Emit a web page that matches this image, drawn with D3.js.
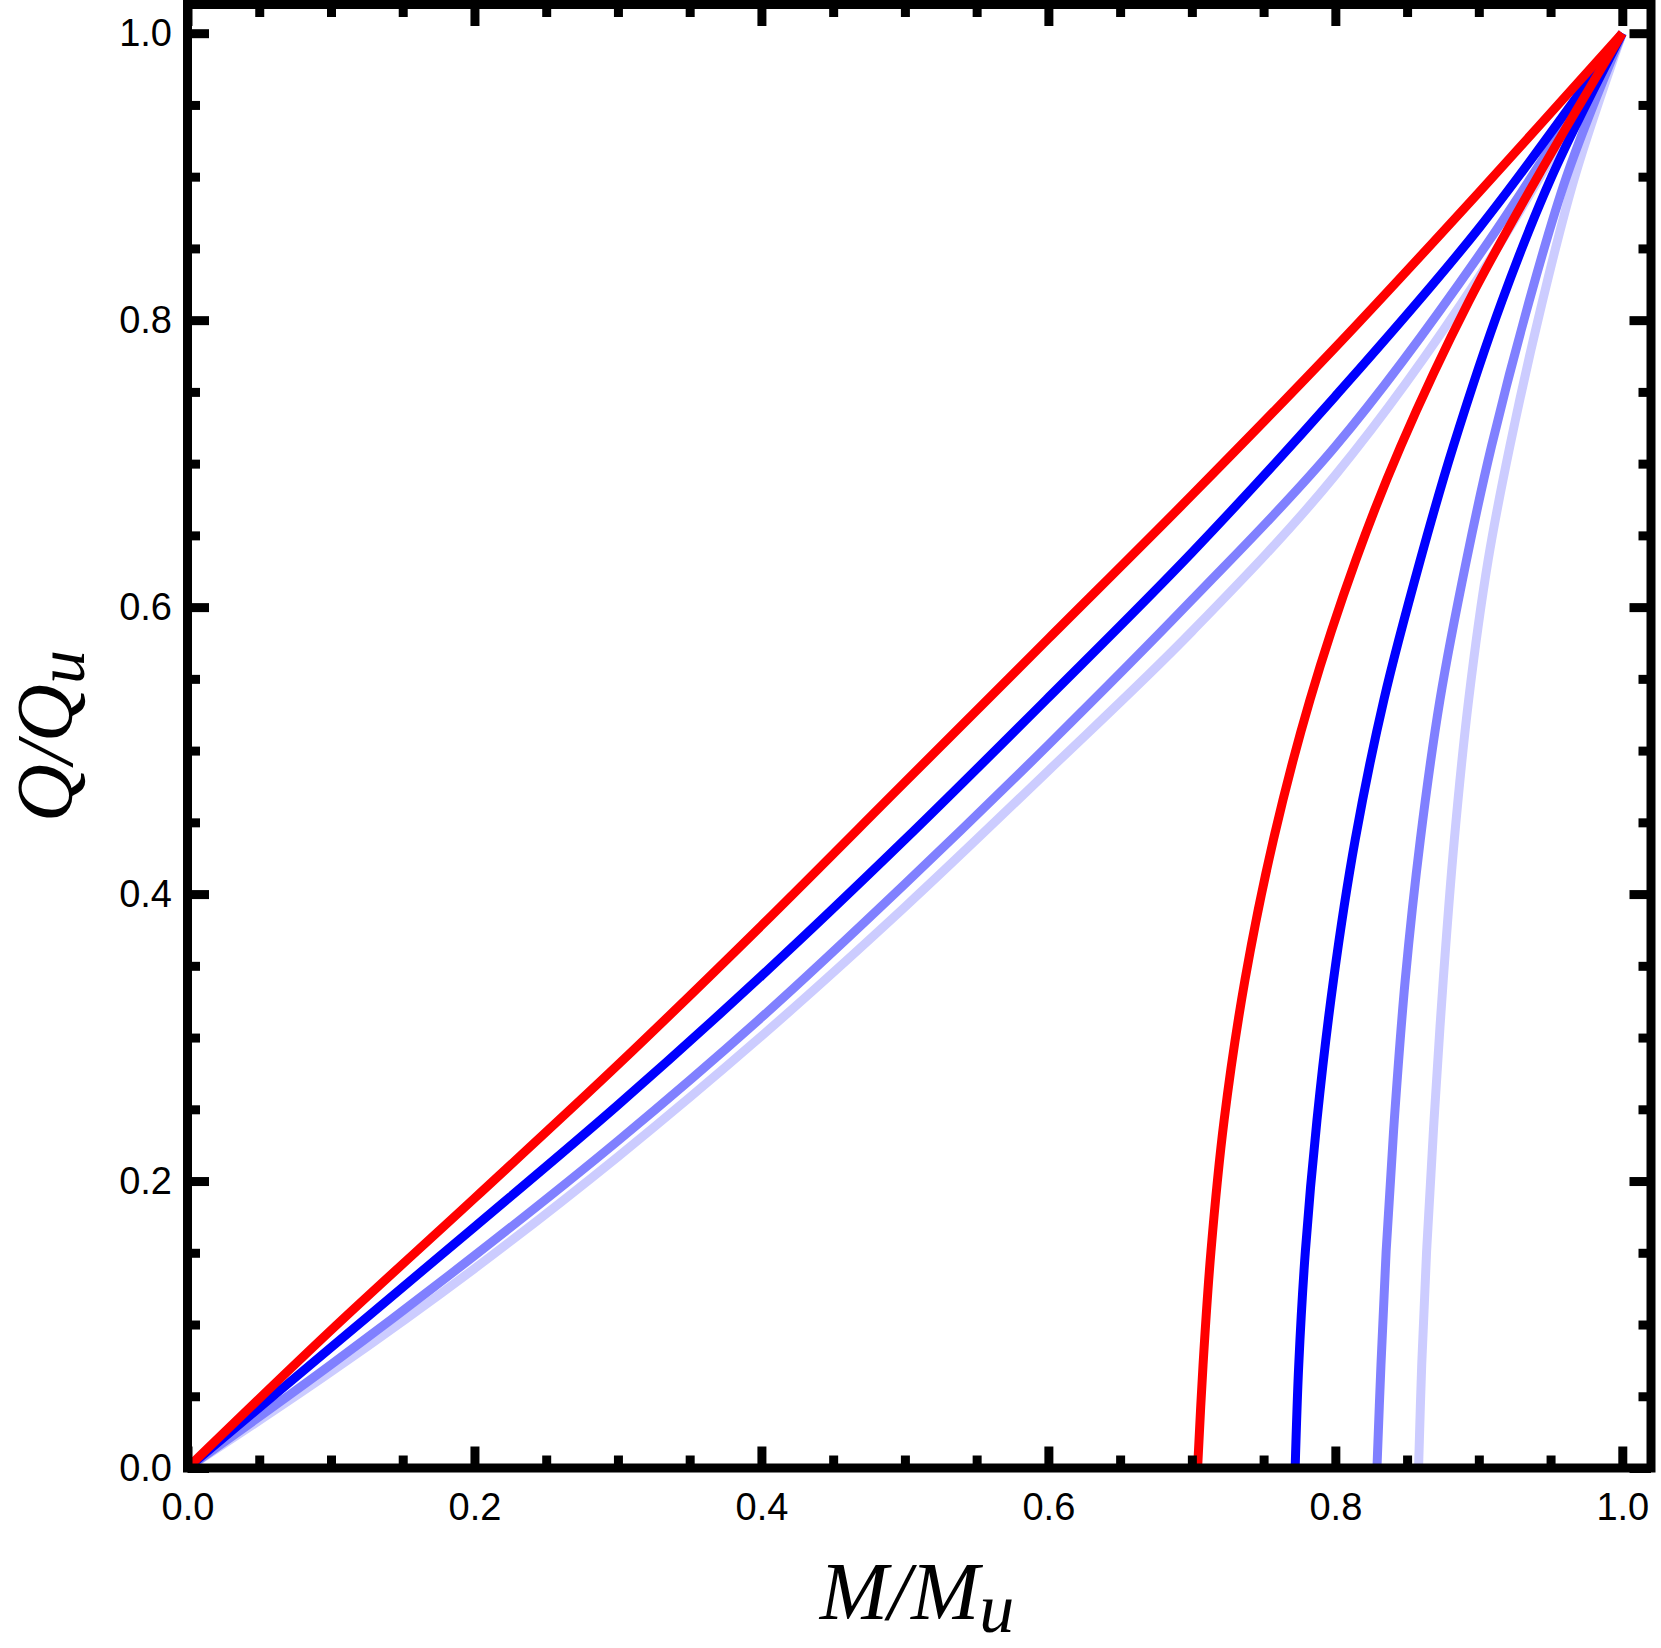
<!DOCTYPE html>
<html><head><meta charset="utf-8">
<script src="https://cdn.jsdelivr.net/npm/d3@7"></script>
<style>body{margin:0;background:#fff} svg{display:block}</style>
</head><body>
<svg id="c" width="1661" height="1648"></svg>
<script>
// ---- data ----
// upper branches: Q/Qu at given M/Mu
const upperM     = [0, 0.1, 0.2, 0.3, 0.4, 0.5, 0.6, 0.7, 0.8, 0.9, 1.0];
const upperRed   = [0, 0.096, 0.188, 0.281, 0.378, 0.478, 0.578, 0.678, 0.781, 0.889, 1.0];
const upperBlue  = [0, 0.084, 0.168, 0.253, 0.343, 0.438, 0.537, 0.638, 0.747, 0.864, 1.0];
const upperMid   = [0, 0.072, 0.148, 0.228, 0.314, 0.407, 0.504, 0.605, 0.712, 0.845, 1.0];
const upperLight = [0, 0.067, 0.139, 0.217, 0.301, 0.391, 0.486, 0.583, 0.692, 0.830, 1.0];
// lower branches: M/Mu at given Q/Qu
const lowerQ     = [0, 0.072, 0.151, 0.2425, 0.3401, 0.4377, 0.5353, 0.6328, 0.712, 0.813, 0.9, 1.0];
const lowerRed   = [0.704, 0.7078, 0.7133, 0.7225, 0.737, 0.7568, 0.7823, 0.8143, 0.8455, 0.893, 0.941, 1.0];
const lowerBlue  = [0.772, 0.7745, 0.7791, 0.7872, 0.7987, 0.8138, 0.8338, 0.8592, 0.8822, 0.916, 0.9508, 1.0];
const lowerMid   = [0.829, 0.8318, 0.8354, 0.8411, 0.8487, 0.8592, 0.8729, 0.8914, 0.9088, 0.935, 0.9611, 1.0];
const lowerLight = [0.858, 0.8602, 0.8636, 0.8688, 0.8752, 0.8829, 0.8929, 0.9065, 0.9216, 0.9443, 0.9669, 1.0];

const seriesNames  = ["light", "mid", "blue", "red"];
const seriesColors = ["#ccccff", "#8080ff", "#0000ff", "#ff0000"];
const majorTicks = [0, 0.2, 0.4, 0.6, 0.8, 1.0];
const minorTicks = [0.05,0.1,0.15,0.25,0.3,0.35,0.45,0.5,0.55,0.65,0.7,0.75,0.85,0.9,0.95];

// ---- drawing ----
const svg = d3.select('#c');
const x = d3.scaleLinear().domain([0, 1.02]).range([187.5, 1651]);
const y = d3.scaleLinear().domain([0, 1.02]).range([1468, 4.5]);

const uppers = [upperLight, upperMid, upperBlue, upperRed];
const lowers = [lowerLight, lowerMid, lowerBlue, lowerRed];

const line = d3.line().x(d => x(d[0])).y(d => y(d[1])).curve(d3.curveCatmullRom.alpha(0.5));

const g = svg.append('g');
seriesNames.forEach((n, i) => {
  g.append('path')
    .attr('d', line(upperM.map((m, k) => [m, uppers[i][k]])))
    .attr('fill', 'none').attr('stroke', seriesColors[i]).attr('stroke-width', 9);
  g.append('path')
    .attr('d', line(lowerQ.map((q, k) => [lowers[i][k], q])))
    .attr('fill', 'none').attr('stroke', seriesColors[i]).attr('stroke-width', 9);
});

const fmt = d3.format('.1f');
const font = '"Liberation Sans", Arial, sans-serif';

function styleAxis(sel) {
  sel.select('.domain').remove();
  sel.selectAll('.tick line').attr('stroke', '#000').attr('stroke-width', 9);
  sel.selectAll('.tick text').attr('font-family', font).attr('font-size', 38).attr('fill', '#000');
}

// bottom
svg.append('g').attr('transform', `translate(0,${y(0)})`)
  .call(d3.axisBottom(x).tickValues(majorTicks).tickSize(-21.5).tickPadding(25).tickFormat(fmt)).call(styleAxis);
svg.append('g').attr('transform', `translate(0,${y(0)})`)
  .call(d3.axisBottom(x).tickValues(minorTicks).tickSize(-12.5).tickFormat('')).call(styleAxis);
// top
svg.append('g').attr('transform', `translate(0,${y(1.02)})`)
  .call(d3.axisTop(x).tickValues(majorTicks).tickSize(-21.5).tickFormat('')).call(styleAxis);
svg.append('g').attr('transform', `translate(0,${y(1.02)})`)
  .call(d3.axisTop(x).tickValues(minorTicks).tickSize(-12.5).tickFormat('')).call(styleAxis);
// left
svg.append('g').attr('transform', `translate(${x(0)},0)`)
  .call(d3.axisLeft(y).tickValues(majorTicks).tickSize(-21.5).tickPadding(15.5).tickFormat(fmt)).call(styleAxis);
svg.append('g').attr('transform', `translate(${x(0)},0)`)
  .call(d3.axisLeft(y).tickValues(minorTicks).tickSize(-12.5).tickFormat('')).call(styleAxis);
// right
svg.append('g').attr('transform', `translate(${x(1.02)},0)`)
  .call(d3.axisRight(y).tickValues(majorTicks).tickSize(-21.5).tickFormat('')).call(styleAxis);
svg.append('g').attr('transform', `translate(${x(1.02)},0)`)
  .call(d3.axisRight(y).tickValues(minorTicks).tickSize(-12.5).tickFormat('')).call(styleAxis);

// frame
svg.append('rect')
  .attr('x', x(0)).attr('y', y(1.02))
  .attr('width', x(1.02) - x(0)).attr('height', y(0) - y(1.02))
  .attr('fill', 'none').attr('stroke', '#000').attr('stroke-width', 9);

// axis titles
const serif = '"Liberation Serif", "Times New Roman", serif';
const xt = svg.append('text')
  .attr('x', 917).attr('y', 1619).attr('text-anchor', 'middle')
  .attr('font-family', serif).attr('font-style', 'italic').attr('font-size', 82);
xt.append('tspan').text('M/M');
xt.append('tspan').attr('dy', 13).attr('font-size', 70).text('u');

const yt = svg.append('text')
  .attr('transform', 'translate(72,736) rotate(-90)').attr('text-anchor', 'middle')
  .attr('font-family', serif).attr('font-style', 'italic').attr('font-size', 80);
yt.append('tspan').text('Q/Q');
yt.append('tspan').attr('dy', 12).attr('font-size', 68).text('u');
</script>
</body></html>
